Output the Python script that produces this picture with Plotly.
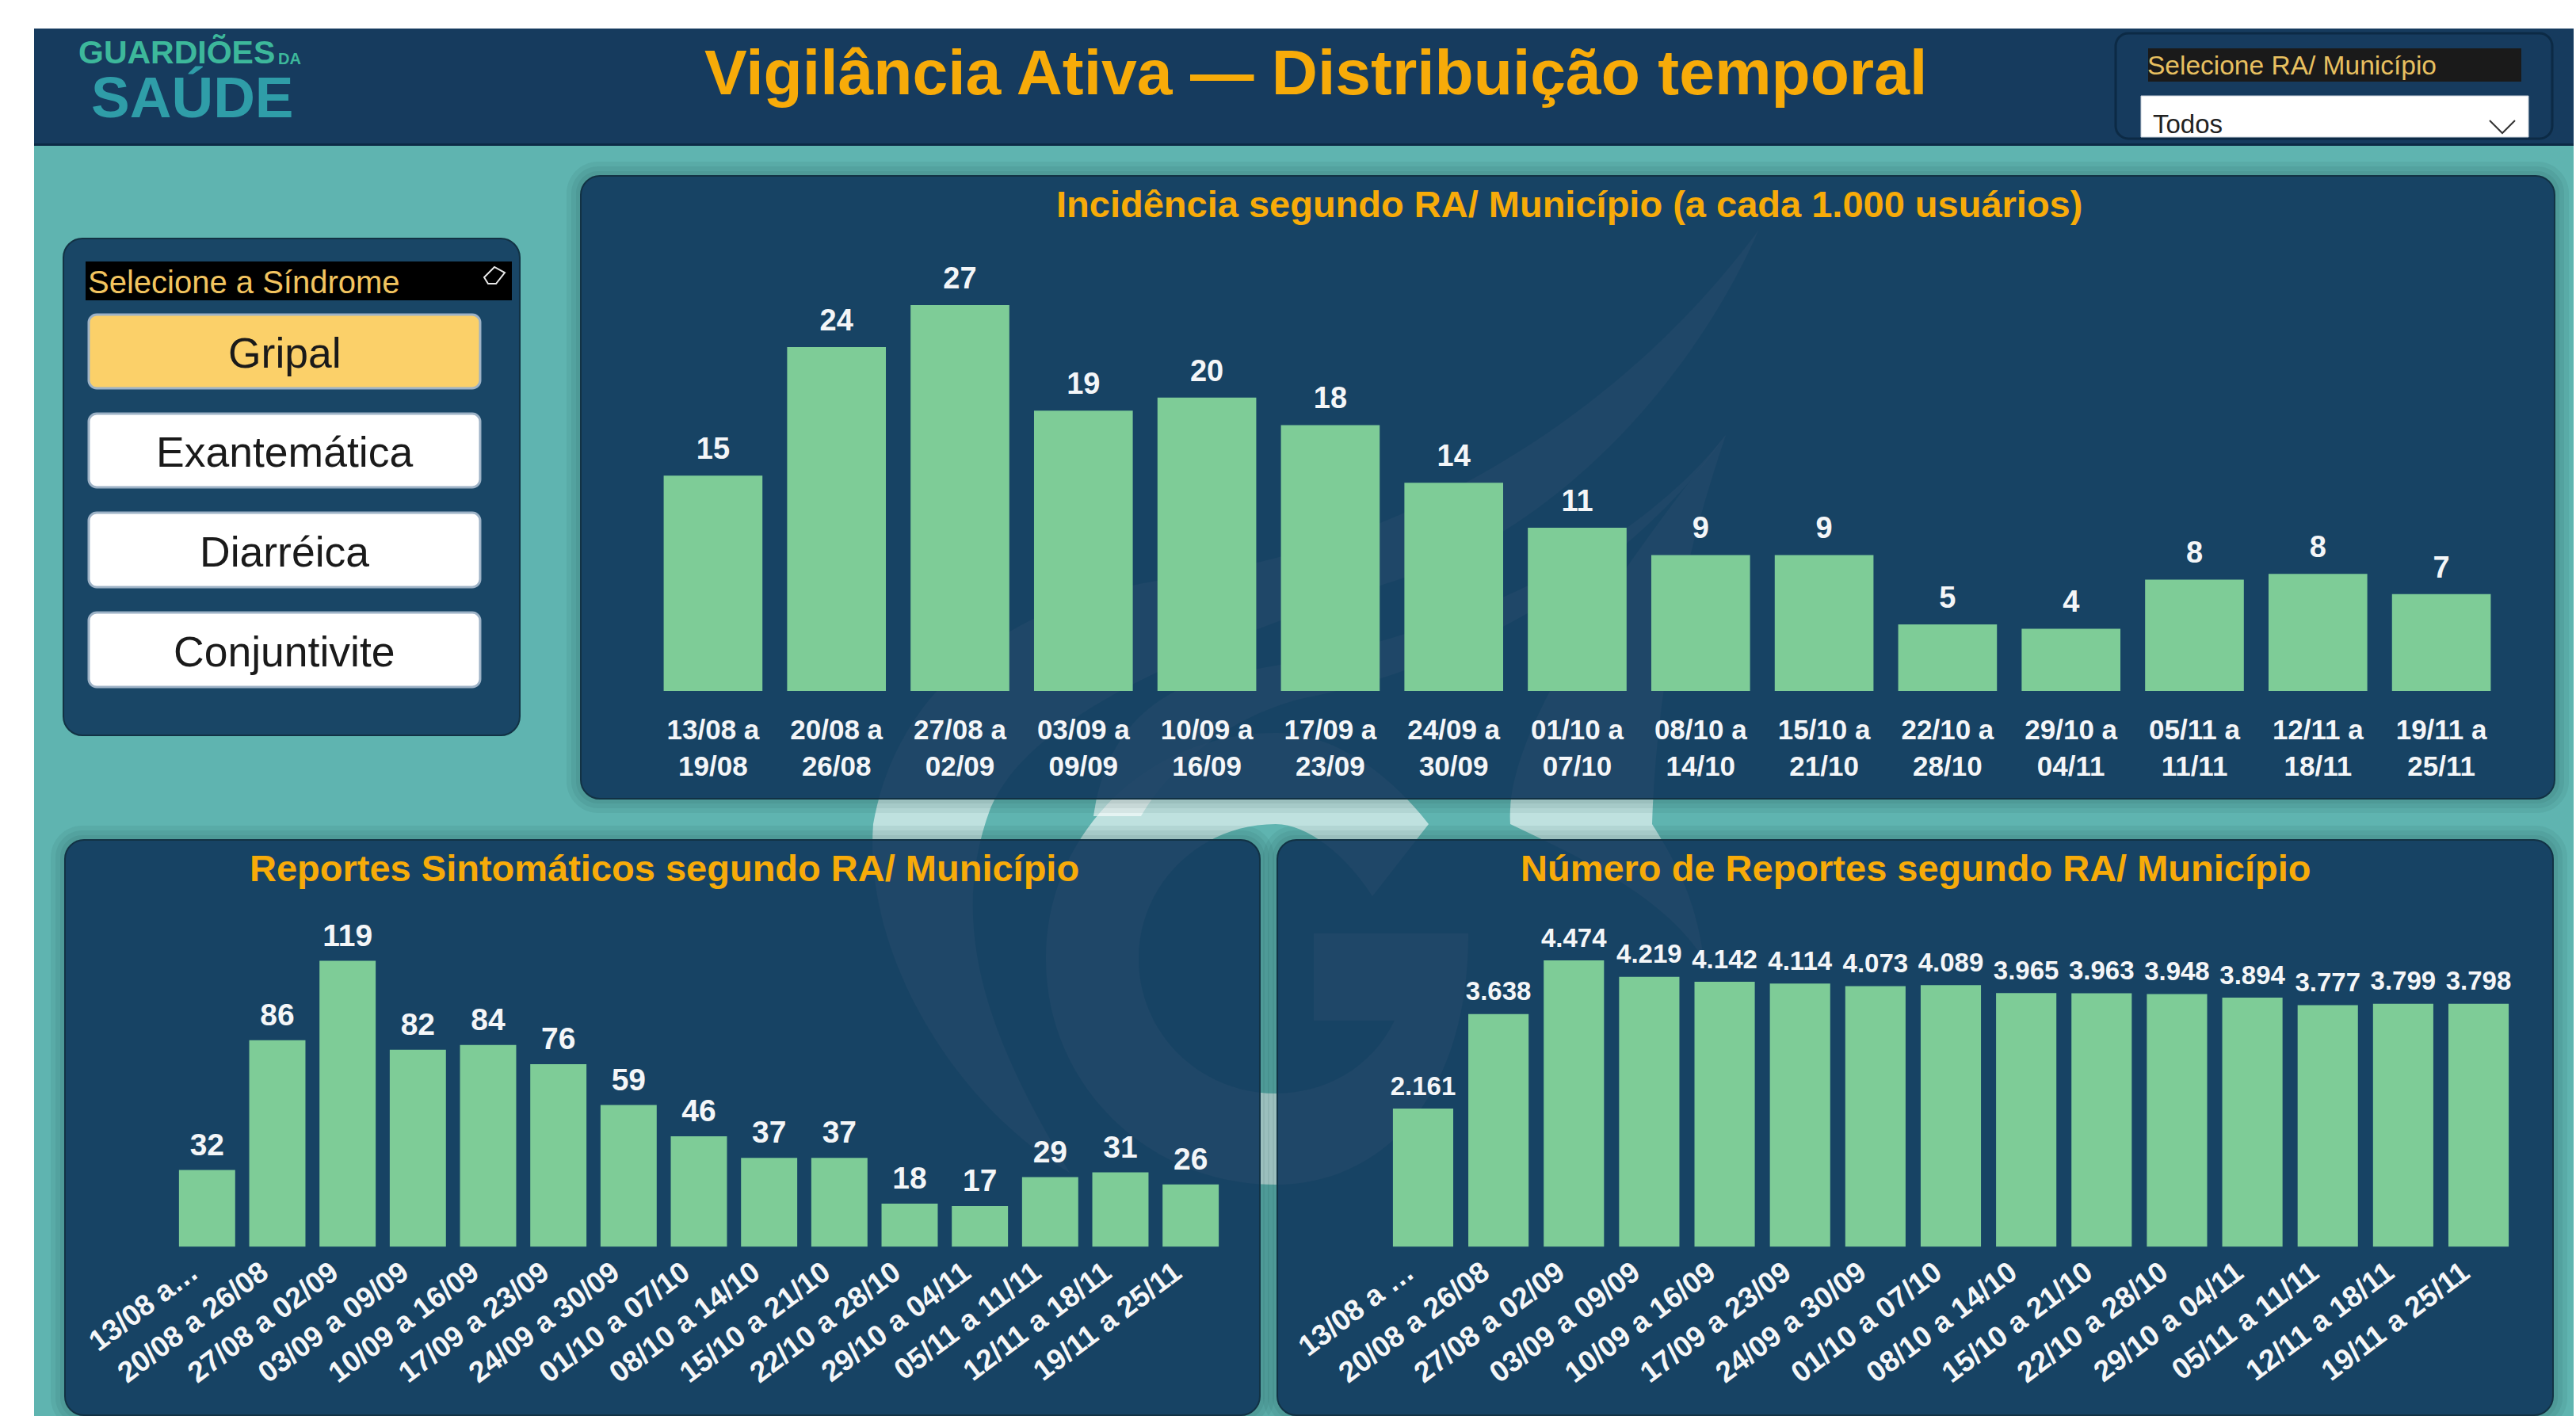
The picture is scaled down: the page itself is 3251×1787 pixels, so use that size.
import plotly.graph_objects as go

W, H = 3251, 1787

# ---------- data ----------
periods_a = ["13/08", "20/08", "27/08", "03/09", "10/09", "17/09", "24/09", "01/10",
             "08/10", "15/10", "22/10", "29/10", "05/11", "12/11", "19/11"]
periods_b = ["19/08", "26/08", "02/09", "09/09", "16/09", "23/09", "30/09", "07/10",
             "14/10", "21/10", "28/10", "04/11", "11/11", "18/11", "25/11"]
incidencia = [14.9, 23.8, 26.7, 19.4, 20.3, 18.4, 14.4, 11.3, 9.4, 9.4, 4.6, 4.3, 7.7, 8.1, 6.7]
sintomaticos = [32, 86, 119, 82, 84, 76, 59, 46, 37, 37, 18, 17, 29, 31, 26]
reportes = [2161, 3638, 4474, 4219, 4142, 4114, 4073, 4089, 3965, 3963, 3948, 3894, 3777, 3799, 3798]
sindromes = ["Gripal", "Exantemática", "Diarréica", "Conjuntivite"]

labels_two_lines = [f"{a} a<br>{b}" for a, b in zip(periods_a, periods_b)]
labels_left = [f"{a} a {b}" for a, b in zip(periods_a, periods_b)]
labels_left[0] = "13/08 a…"
labels_right = [f"{a} a {b}" for a, b in zip(periods_a, periods_b)]
labels_right[0] = "13/08 a …"

# ---------- style ----------
FONT = "Liberation Sans"
TEAL = "#5FB4B0"
HEADER = "#163B5E"
PANEL = "rgba(18,58,94,0.9)"
BAR = "#7ECC97"
GOLD = "#F7AB09"
WHITE = "#F4F6F8"


def px(x):
    return x / W


def py(y):
    return 1 - y / H


def P(path):
    """Convert a path in page pixels into a plotly path (paper coords)."""
    out, i, toks = [], 0, path.split()
    while i < len(toks):
        t = toks[i]
        if t.isalpha():
            out.append(t)
            i += 1
        else:
            out.append(f"{px(float(t)):.5f},{py(float(toks[i + 1])):.5f}")
            i += 2
    return " ".join(out)


def rrect(x0, y0, x1, y1, r):
    k = r * 0.45
    return (f"M {x0 + r} {y0} L {x1 - r} {y0} C {x1 - k} {y0} {x1} {y0 + k} {x1} {y0 + r} "
            f"L {x1} {y1 - r} C {x1} {y1 - k} {x1 - k} {y1} {x1 - r} {y1} "
            f"L {x0 + r} {y1} C {x0 + k} {y1} {x0} {y1 - k} {x0} {y1 - r} "
            f"L {x0} {y0 + r} C {x0} {y0 + k} {x0 + k} {y0} {x0 + r} {y0} Z")


shapes = []


def add_path(path, fill, line="rgba(0,0,0,0)", lw=0):
    shapes.append(dict(type="path", xref="paper", yref="paper", path=P(path), fillcolor=fill,
                       line=dict(color=line, width=lw), layer="below"))


def add_rect(x0, y0, x1, y1, fill, line="rgba(0,0,0,0)", lw=0):
    shapes.append(dict(type="rect", xref="paper", yref="paper", x0=px(x0), x1=px(x1),
                       y0=py(y0), y1=py(y1), fillcolor=fill,
                       line=dict(color=line, width=lw), layer="below"))


annotations = []


def add_text(x, y, text, size, color, bold=True, anchor="center"):
    annotations.append(dict(xref="paper", yref="paper", x=px(x), y=py(y), text=text, showarrow=False,
                            xanchor=anchor, yanchor="middle",
                            font=dict(family=FONT, size=size, color=color,
                                      weight="bold" if bold else "normal")))


# page background
add_rect(43, 184, 3248, 1787, TEAL)

# watermark (logo behind the panels)
WM = "rgba(255,255,255,0.6)"
# big crescent
add_path("M 2219 291 C 2050 520 1780 690 1480 730 C 1260 760 1130 880 1102 1040 "
         "C 1090 1200 1200 1390 1350 1480 C 1260 1330 1190 1180 1250 1020 "
         "C 1300 900 1520 810 1800 720 C 2000 640 2150 450 2219 291 Z", WM)
# G ring
add_path("M 1803 1040 C 1740 960 1670 925 1610 925 C 1450 925 1320 1050 1320 1210 "
         "C 1320 1370 1450 1495 1610 1495 C 1740 1495 1853 1390 1853 1178 L 1658 1178 L 1658 1288 "
         "L 1760 1288 C 1730 1350 1670 1380 1610 1380 C 1515 1380 1437 1305 1437 1210 "
         "C 1437 1115 1515 1040 1610 1040 C 1650 1040 1700 1080 1732 1131 Z", WM)
# second swoosh
add_path("M 2178 549 C 2060 700 1830 810 1550 850 C 1450 870 1395 930 1380 1030 L 1440 1030 "
         "C 1480 960 1560 900 1650 880 C 1850 840 2060 720 2178 549 Z", WM)
add_path("M 2178 549 C 2120 720 2090 880 2085 1040 C 2110 1080 2140 1130 2150 1210 "
         "C 2100 1130 1990 1080 1906 1040 C 1900 950 1980 800 2178 549 Z", WM)

# panel shadows + panels
syndrome_panel = (80, 301, 656, 928)
chart_panels = [(733, 222, 3224, 1008), (82, 1060, 1590, 1786), (1612, 1060, 3222, 1786)]
for x0, y0, x1, y1 in chart_panels:
    for grow in (18, 12, 6):
        add_path(rrect(x0 - grow, y0 - grow, x1 + grow, y1 + grow, 22 + grow), "rgba(10,50,60,0.07)")
for x0, y0, x1, y1 in [syndrome_panel] + chart_panels:
    add_path(rrect(x0, y0, x1, y1, 24), PANEL, "#123244", 2)

# header
add_rect(43, 36, 3248, 184, HEADER)
add_rect(43, 181, 3248, 184, "#0C2A45")
add_path(rrect(2670, 42, 3221, 175, 16), HEADER, "#0C2A45", 3)

# dropdown
add_rect(2711, 61, 3182, 103, "#1A1A1A")
add_rect(2702, 121, 3191, 173, "#FFFFFF", "#C8D0D8", 1)
add_path("M 3142 152 L 3158 168 L 3174 152", "rgba(0,0,0,0)", "#333333", 2)

# synd panel
add_rect(108, 330, 646, 379, "#000000")
add_path("M 611 350 L 624 337 L 637 344 L 626 358 L 616 358 Z", "rgba(0,0,0,0)", "#E8E8E8", 2)
button_y = [(397, 490), (522, 615), (647, 741), (773, 867)]
for i, ((y0, y1), name) in enumerate(zip(button_y, sindromes)):
    add_path(rrect(112, y0, 606, y1, 10), "#FBD069" if i == 0 else "#FFFFFF", "#9DB2C6", 3)
    add_text(359, (y0 + y1) / 2 + 2, name, 53.5, "#1A1A1A", bold=False)

add_text(109, 356, "Selecione a Síndrome", 40, "#F2C45F", bold=False, anchor="left")
add_text(2708, 82, "Selecione RA/ Município", 33.5, "#E8C060", bold=False, anchor="left")
add_text(2715, 157, "Todos", 33, "#222222", bold=False, anchor="left")

# logo
add_text(97, 66, "GUARDIÕES", 41, "#3DB89B", anchor="left")
add_text(349, 74, "DA", 20, "#3DB89B", anchor="left")
add_text(113, 122, "SAÚDE", 73, "#2F9DA8", anchor="left")

# titles
add_text(1660, 91, "Vigilância Ativa — Distribuição temporal", 80.5, GOLD)
add_text(1980, 257, "Incidência segundo RA/ Município (a cada 1.000 usuários)", 47, GOLD)
add_text(838, 1095, "Reportes Sintomáticos segundo RA/ Município", 47, GOLD)
add_text(2418, 1095, "Número de Reportes segundo RA/ Município", 47, GOLD)

fig = go.Figure()


def add_chart(n, labels, values, x0, x1, base, top, ymax, template, lab_size, tick_size, angle,
              ticklen, gap, shift, standoff):
    xa = "x" if n == 1 else f"x{n}"
    ya = "y" if n == 1 else f"y{n}"
    cats = list(range(len(values)))
    fig.add_trace(go.Bar(x=cats, y=values, xaxis=xa, yaxis=ya, marker=dict(color=BAR, line=dict(width=0)),
                         hoverinfo="skip", showlegend=False))
    fig.add_trace(go.Scatter(x=cats, y=values, xaxis=xa, yaxis=ya, mode="markers+text",
                             marker=dict(size=gap, opacity=0), texttemplate=template, textposition="top center",
                             textfont=dict(family=FONT, size=lab_size, color=WHITE, weight="bold"),
                             cliponaxis=False, hoverinfo="skip", showlegend=False))
    axis_x = dict(domain=[px(x0), px(x1)], range=[-0.5, len(values) - 0.5], tickmode="array", tickvals=cats,
                  ticktext=labels, tickangle=angle, showgrid=False, zeroline=False, showline=False,
                  ticks="outside", ticklen=ticklen, tickcolor="rgba(0,0,0,0)", automargin=False,
                  tickfont=dict(family=FONT, size=tick_size, color=WHITE, weight="bold"),
                  ticklabelshift=shift, ticklabelstandoff=standoff, anchor=ya)
    axis_y = dict(domain=[py(base), py(top)], range=[0, ymax], visible=False, anchor=xa)
    fig.update_layout({("xaxis" if n == 1 else f"xaxis{n}"): axis_x,
                       ("yaxis" if n == 1 else f"yaxis{n}"): axis_y})


add_chart(1, labels_two_lines, incidencia, 822, 3159, 872, 300, 31.36, "%{y:.0f}", 38, 35, 0, 18, 17, 0, 0)
add_chart(2, labels_left, sintomaticos, 217, 1547, 1573.6, 1170, 133, "%{y:.0f}", 39, 37, -37, 1, 13, -20, -6)
add_chart(3, labels_right, reportes, 1748.4, 3175.6, 1573.6, 1170, 4995, "%{y:,.0f}", 33, 37, -37, 1, 13, -20, -6)

fig.update_layout(width=W, height=H, margin=dict(l=0, r=0, t=0, b=0, pad=0), paper_bgcolor="#FFFFFF",
                  plot_bgcolor="rgba(0,0,0,0)", shapes=shapes, annotations=annotations,
                  bargap=0.2, separators=",.", showlegend=False, font=dict(family=FONT))

fig.write_html("out.html", config={"displayModeBar": False},
               post_script="document.body.style.margin='0';document.body.style.overflow='hidden';")
